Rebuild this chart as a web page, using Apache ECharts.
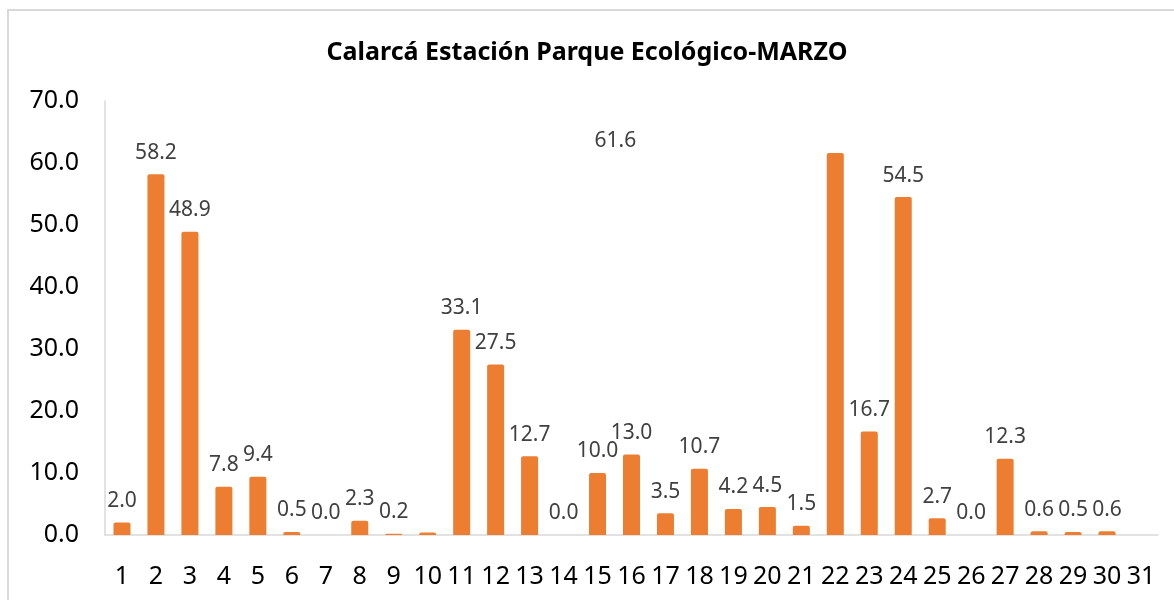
<!DOCTYPE html>
<html>
<head>
<meta charset="utf-8">
<script src="https://cdn.jsdelivr.net/npm/echarts@6/dist/echarts.min.js"></script>
<style>
  html, body { margin: 0; padding: 0; background: #fff; }
  #chart { width: 1174px; height: 600px; }
</style>
</head>
<body>
<div id="chart"></div>
<script>
// dias del mes
const days = [
  "1", "2", "3", "4", "5", "6", "7", "8", "9", "10",
  "11", "12", "13", "14", "15", "16", "17", "18", "19", "20",
  "21", "22", "23", "24", "25", "26", "27", "28", "29", "30", "31"
];
// precipitacion diaria (mm)
const rain = [
  2.0, 58.2, 48.9, 7.8, 9.4, 0.5, 0.0, 2.3, 0.2, 0.4,
  33.1, 27.5, 12.7, 0.0, 10.0, 13.0, 3.5, 10.7, 4.2, 4.5,
  1.5, 61.6, 16.7, 54.5, 2.7, 0.0, 12.3, 0.6, 0.5, 0.6, null
];
const yTicks = [0, 10, 20, 30, 40, 50, 60, 70];

const font = "'Noto Sans', 'Open Sans', sans-serif";
const chart = echarts.init(document.getElementById("chart"));

const barData = rain.map((v, i) => {
  const item = { value: v };
  if (days[i] === "10") item.label = { show: false };
  // la etiqueta del 22 esta corrida a la izquierda en el original
  if (days[i] === "22") item.label = { offset: [-220, 9] };
  return item;
});

chart.setOption({
  animation: false,
  backgroundColor: "#fff",
  graphic: [
    {
      type: "rect",
      shape: { x: 8, y: 10, width: 1300, height: 800 },
      style: { fill: "none", stroke: "#d9d9d9", lineWidth: 2 },
      silent: true,
    },
  ],
  title: {
    text: "Calarcá Estación Parque Ecológico-MARZO",
    left: "center",
    top: 35,
    textStyle: {
      fontFamily: font,
      fontSize: 25,
      fontWeight: "bold",
      color: "#000",
    },
  },
  grid: {
    left: 105,
    right: 16,
    top: 101,
    bottom: 65,
  },
  xAxis: {
    type: "category",
    data: days,
    axisLine: { lineStyle: { color: "#d9d9d9", width: 1.5 } },
    axisTick: { show: false },
    axisLabel: {
      interval: 0,
      margin: 29,
      color: "#000",
      fontFamily: font,
      fontSize: 25,
    },
  },
  yAxis: {
    type: "value",
    min: yTicks[0],
    max: yTicks[yTicks.length - 1],
    interval: 10,
    axisLine: { show: true, lineStyle: { color: "#d9d9d9", width: 1.5 } },
    axisTick: { show: false },
    splitLine: { show: false },
    axisLabel: {
      margin: 26,
      color: "#000",
      fontFamily: font,
      fontSize: 25,
      formatter: (v) => v.toFixed(1),
    },
  },
  series: [
    {
      type: "bar",
      data: barData,
      barWidth: 17,
      itemStyle: { color: "#ED7D31", borderRadius: [2, 2, 0, 0] },
      label: {
        show: true,
        position: "top",
        distance: 11,
        color: "#404040",
        fontFamily: font,
        fontSize: 21,
        formatter: (p) => (p.value == null ? "" : p.value.toFixed(1)),
      },
    },
  ],
});
</script>
</body>
</html>
